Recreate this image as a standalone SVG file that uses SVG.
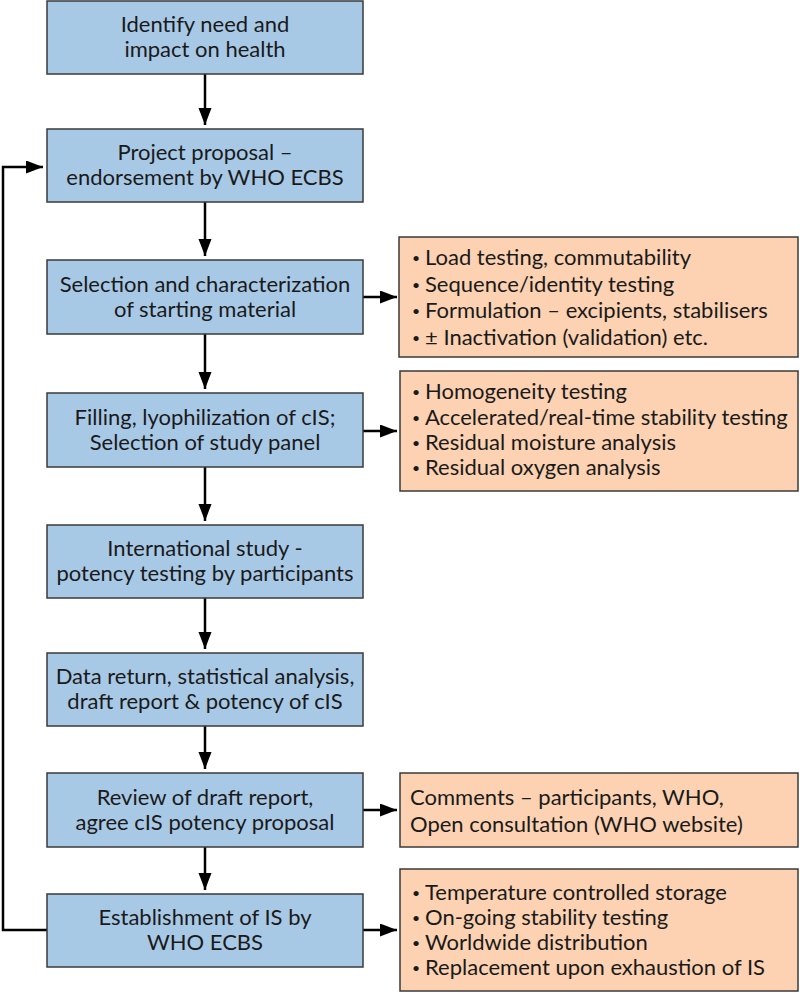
<svg xmlns="http://www.w3.org/2000/svg" width="800" height="993" viewBox="0 0 800 993">
<style>
.b{fill:#a8c9e6;stroke:#3a3a3a;stroke-width:1.5}
.o{fill:#fcd2b2;stroke:#3a3a3a;stroke-width:1.5}
text{font-family:Lato,"Open Sans",sans-serif;font-size:22px;fill:#1a1a1a}
.c{text-anchor:middle}
.d{font-size:14px}
.l{fill:none;stroke:#000;stroke-width:2.5}
</style>
<defs>
<marker id="ah" markerUnits="userSpaceOnUse" markerWidth="18" markerHeight="14" refX="17" refY="6.5" orient="auto">
<path d="M0,0 L17,6.5 L0,13 Z" fill="#000"/>
</marker>
</defs>
<rect width="800" height="993" fill="#fff"/>
<g id="connectors">
<line class="l" x1="205" y1="74" x2="205" y2="125" marker-end="url(#ah)"/>
<line class="l" x1="205" y1="202" x2="205" y2="256" marker-end="url(#ah)"/>
<line class="l" x1="205" y1="334" x2="205" y2="389" marker-end="url(#ah)"/>
<line class="l" x1="205" y1="467" x2="205" y2="521" marker-end="url(#ah)"/>
<line class="l" x1="205" y1="598" x2="205" y2="649" marker-end="url(#ah)"/>
<line class="l" x1="205" y1="726" x2="205" y2="769" marker-end="url(#ah)"/>
<line class="l" x1="205" y1="847" x2="205" y2="890" marker-end="url(#ah)"/>
<line class="l" x1="363" y1="297" x2="397" y2="297" marker-end="url(#ah)"/>
<line class="l" x1="363" y1="431" x2="397" y2="431" marker-end="url(#ah)"/>
<line class="l" x1="363" y1="810" x2="397" y2="810" marker-end="url(#ah)"/>
<line class="l" x1="363" y1="930" x2="397" y2="930" marker-end="url(#ah)"/>
<path class="l" d="M47,930 H3 V167 H43" marker-end="url(#ah)"/>
</g>
<g id="n1"><rect class="b" x="47" y="1" width="316" height="73"/>
<text class="c" x="205" y="32">Identify need and</text><text class="c" x="205" y="57">impact on health</text></g>
<g id="n2"><rect class="b" x="47" y="129" width="316" height="73"/>
<text class="c" x="205" y="160">Project proposal –</text><text class="c" x="205" y="185">endorsement by WHO ECBS</text></g>
<g id="n3"><rect class="b" x="47" y="260" width="316" height="74"/>
<text class="c" x="205" y="291.5">Selection and characterization</text><text class="c" x="205" y="316.5">of starting material</text></g>
<g id="n4"><rect class="b" x="47" y="393" width="316" height="74"/>
<text class="c" x="205" y="424.5">Filling, lyophilization of cIS;</text><text class="c" x="205" y="449.5">Selection of study panel</text></g>
<g id="n5"><rect class="b" x="47" y="525" width="316" height="73"/>
<text class="c" x="205" y="556">International study -</text><text class="c" x="205" y="581">potency testing by participants</text></g>
<g id="n6"><rect class="b" x="47" y="653" width="316" height="73"/>
<text class="c" x="205" y="684">Data return, statistical analysis,</text><text class="c" x="205" y="709">draft report &amp; potency of cIS</text></g>
<g id="n7"><rect class="b" x="47" y="773" width="316" height="74"/>
<text class="c" x="205" y="804.5">Review of draft report,</text><text class="c" x="205" y="829.5">agree cIS potency proposal</text></g>
<g id="n8"><rect class="b" x="47" y="894" width="316" height="73"/>
<text class="c" x="205" y="925">Establishment of IS by</text><text class="c" x="205" y="950">WHO ECBS</text></g>
<g id="r1"><rect class="o" x="399" y="237" width="399" height="120"/>
<text class="d" x="412" y="263">•</text><text x="425" y="265">Load testing, commutability</text>
<text class="d" x="412" y="290">•</text><text x="425" y="292">Sequence/identity testing</text>
<text class="d" x="412" y="316">•</text><text x="425" y="318">Formulation – excipients, stabilisers</text>
<text class="d" x="412" y="343">•</text><text x="425" y="345">± Inactivation (validation) etc.</text></g>
<g id="r2"><rect class="o" x="400" y="371" width="398" height="120"/>
<text class="d" x="412" y="397">•</text><text x="425" y="399">Homogeneity testing</text>
<text class="d" x="412" y="423">•</text><text x="425" y="425">Accelerated/real-time stability testing</text>
<text class="d" x="412" y="448">•</text><text x="425" y="450">Residual moisture analysis</text>
<text class="d" x="412" y="473">•</text><text x="425" y="475">Residual oxygen analysis</text></g>
<g id="r3"><rect class="o" x="400" y="773" width="398" height="74"/>
<text x="410" y="805">Comments – participants, WHO,</text>
<text x="410" y="832">Open consultation (WHO website)</text></g>
<g id="r4"><rect class="o" x="400" y="869" width="398" height="122"/>
<text class="d" x="412" y="898">•</text><text x="425" y="900">Temperature controlled storage</text>
<text class="d" x="412" y="923">•</text><text x="425" y="925">On-going stability testing</text>
<text class="d" x="412" y="948">•</text><text x="425" y="950">Worldwide distribution</text>
<text class="d" x="412" y="973">•</text><text x="425" y="975">Replacement upon exhaustion of IS</text></g>
</svg>
